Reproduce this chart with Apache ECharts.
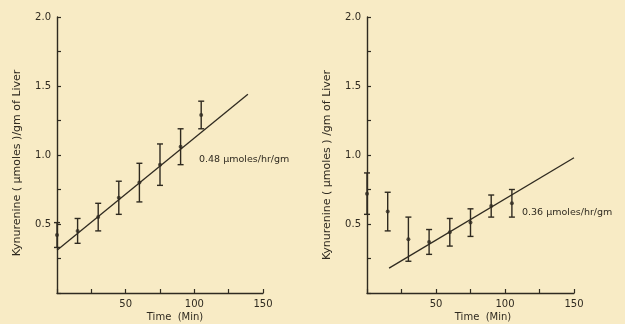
<!DOCTYPE html>
<html>
<head>
<meta charset="utf-8" />
<title>Kynurenine</title>
<style>
  html, body { margin: 0; padding: 0; background: #f8ebc5; }
  #chartBox { width: 625px; height: 324px; }
</style>
</head>
<body>
<div id="chartBox"></div>
<script src="https://cdn.jsdelivr.net/npm/echarts@6.0.0/dist/echarts.min.js"></script>
<script>
// data
var timesL = [0, 15, 30, 45, 60, 75, 90, 105];
var meanL = [0.42, 0.45, 0.55, 0.69, 0.80, 0.93, 1.06, 1.29];
var errL = [0.09, 0.09, 0.10, 0.12, 0.14, 0.15, 0.13, 0.10];
var fitL = [[0, 0.31], [139, 1.44]];

var timesR = [0, 15, 30, 45, 60, 75, 90, 105];
var meanR = [0.72, 0.59, 0.39, 0.37, 0.44, 0.51, 0.63, 0.65];
var errR = [0.15, 0.14, 0.16, 0.09, 0.10, 0.10, 0.08, 0.10];
var fitR = [[16, 0.18], [150, 0.98]];

var xLabels = [50, 100, 150];
var yLabels = [0.5, 1.0, 1.5, 2.0];
var rateL = '0.48 µmoles/hr/gm';
var rateR = '0.36 µmoles/hr/gm';

var ink = '#2f2a20';
var _font = 'DejaVu Sans';

function makeX(idx) {
  return {
    type: 'value', gridIndex: idx, min: 0, max: 150, interval: 25,
    axisLine: { lineStyle: { color: ink, width: 1.4 } },
    axisTick: { inside: true, length: 4, lineStyle: { color: ink, width: 1.2 } },
    splitLine: { show: false },
    axisLabel: {
      color: ink, fontSize: 10, fontFamily: _font, margin: 6,
      formatter: function (v) { return xLabels.indexOf(v) >= 0 ? String(v) : ''; }
    }
  };
}
function makeY(idx) {
  return {
    type: 'value', gridIndex: idx, min: 0, max: 2, interval: 0.25,
    axisLine: { lineStyle: { color: ink, width: 1.4 } },
    axisTick: { inside: true, length: 4, lineStyle: { color: ink, width: 1.2 } },
    splitLine: { show: false },
    axisLabel: {
      color: ink, fontSize: 10, fontFamily: _font, margin: 6,
      formatter: function (v) { return yLabels.indexOf(v) >= 0 ? v.toFixed(1) : ''; }
    }
  };
}

function errData(t, m, e) {
  return t.map(function (x, i) { return [x, m[i] - e[i], m[i] + e[i]]; });
}
function ptData(t, m) {
  return t.map(function (x, i) { return [x, m[i]]; });
}
function errSeries(idx, data) {
  return {
    type: 'custom', xAxisIndex: idx, yAxisIndex: idx, data: data, z: 3,
    renderItem: function (params, api) {
      var lo = api.coord([api.value(0), api.value(1)]);
      var hi = api.coord([api.value(0), api.value(2)]);
      var w = 3;
      var st = { stroke: ink, lineWidth: 1.4 };
      return {
        type: 'group', children: [
          { type: 'line', shape: { x1: lo[0], y1: lo[1], x2: hi[0], y2: hi[1] }, style: st },
          { type: 'line', shape: { x1: lo[0] - w, y1: lo[1], x2: lo[0] + w, y2: lo[1] }, style: st },
          { type: 'line', shape: { x1: hi[0] - w, y1: hi[1], x2: hi[0] + w, y2: hi[1] }, style: st }
        ]
      };
    }
  };
}

function txt(x, y, s, size, rot, align) {
  return {
    type: 'text', x: x, y: y, rotation: rot || 0,
    style: { text: s, fill: ink, font: size + 'px "' + _font + '"', align: align || 'center', verticalAlign: 'middle' }
  };
}

var chart = echarts.init(document.getElementById('chartBox'));
var option = {
  backgroundColor: '#f8ebc5',
  animation: false,
  grid: [
    { left: 57, right: 362, top: 17, bottom: 31 },
    { left: 367, right: 51, top: 17, bottom: 31 }
  ],
  xAxis: [makeX(0), makeX(1)],
  yAxis: [makeY(0), makeY(1)],
  series: [
    errSeries(0, errData(timesL, meanL, errL)),
    { type: 'scatter', xAxisIndex: 0, yAxisIndex: 0, data: ptData(timesL, meanL), symbolSize: 4, itemStyle: { color: ink }, z: 4 },
    { type: 'line', xAxisIndex: 0, yAxisIndex: 0, data: fitL, showSymbol: false, lineStyle: { color: ink, width: 1.3 } },
    errSeries(1, errData(timesR, meanR, errR)),
    { type: 'scatter', xAxisIndex: 1, yAxisIndex: 1, data: ptData(timesR, meanR), symbolSize: 4, itemStyle: { color: ink }, z: 4 },
    { type: 'line', xAxisIndex: 1, yAxisIndex: 1, data: fitR, showSymbol: false, lineStyle: { color: ink, width: 1.3 } }
  ],
  graphic: [
    txt(17, 163, 'Kynurenine ( µmoles )/gm of Liver', 11, Math.PI / 2),
    txt(327, 165, 'Kynurenine ( µmoles ) /gm of Liver', 11, Math.PI / 2),
    txt(175, 317, 'Time  (Min)', 10),
    txt(483, 317, 'Time  (Min)', 10),
    txt(199, 160, rateL, 9.5, 0, 'left'),
    txt(522, 213, rateR, 9.5, 0, 'left')
  ]
};
chart.setOption(option);
</script>
</body>
</html>
